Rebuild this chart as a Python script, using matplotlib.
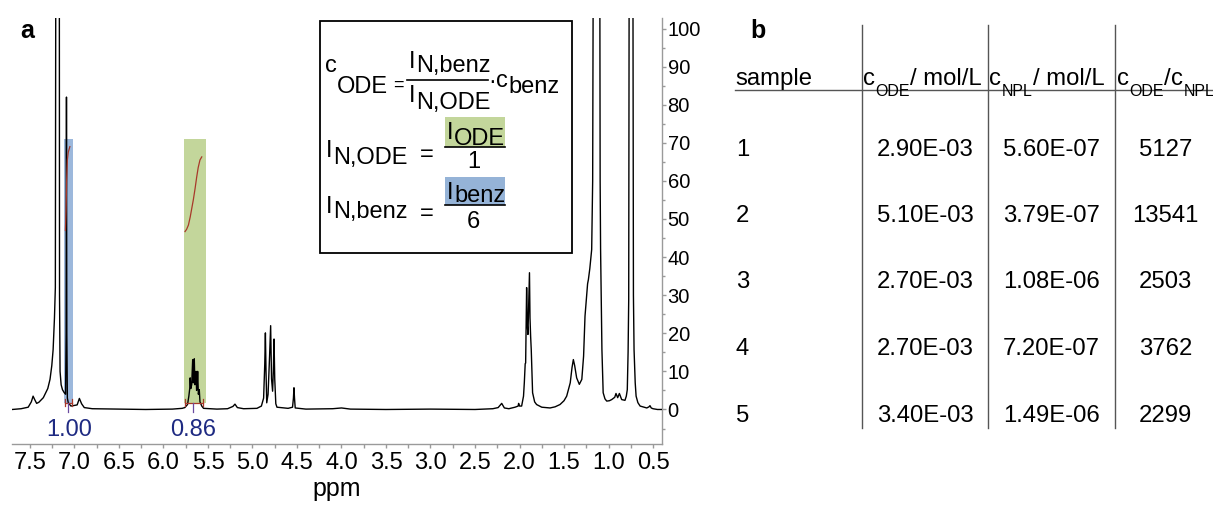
import matplotlib
matplotlib.use('Agg')
import matplotlib.pyplot as plt
from matplotlib.patches import Rectangle

W, H = 1213, 507
plt.rcParams['font.family'] = ['Liberation Sans', 'DejaVu Sans']

# ---------------- spectrum data (ppm, intensity) ----------------
spec_ppm = [7.70, 7.60, 7.52, 7.485, 7.465, 7.445, 7.425, 7.40, 7.35, 7.30, 7.275, 7.255, 7.24,
            7.225, 7.215, 7.208, 7.171, 7.168, 7.162, 7.15, 7.135, 7.115, 7.10, 7.094, 7.09,
            7.086, 7.08, 7.07, 7.04, 6.97, 6.945, 6.92, 6.89, 6.80, 6.50, 6.20, 5.90, 5.79,
            5.76, 5.73, 5.715, 5.705, 5.700, 5.693, 5.683, 5.672, 5.666, 5.660, 5.654, 5.647,
            5.641, 5.635, 5.628, 5.622, 5.616, 5.608, 5.598, 5.590, 5.57, 5.55, 5.40, 5.28,
            5.22, 5.197, 5.17, 5.10, 4.95, 4.90, 4.875, 4.862, 4.855, 4.848, 4.84, 4.825,
            4.808, 4.796, 4.786, 4.774, 4.766, 4.758, 4.750, 4.738, 4.725, 4.60, 4.55, 4.540,
            4.534, 4.528, 4.52, 4.40, 4.10, 4.00, 3.90, 3.50, 3.00, 2.50, 2.30, 2.24, 2.20,
            2.17, 2.12, 2.05, 2.015, 2.01, 2.00, 1.976, 1.955, 1.946, 1.936, 1.931, 1.925,
            1.920, 1.912, 1.905, 1.896, 1.888, 1.882, 1.875, 1.868, 1.860, 1.853, 1.83, 1.808,
            1.75, 1.657, 1.60, 1.545, 1.50, 1.47, 1.43, 1.41, 1.395, 1.38, 1.358, 1.328, 1.30,
            1.28, 1.264, 1.245, 1.235, 1.226, 1.21, 1.189, 1.178, 1.168, 1.100, 1.094, 1.089,
            1.080, 1.074, 1.06, 1.04, 1.02, 0.99, 0.964, 0.93, 0.916, 0.897, 0.878, 0.852,
            0.815, 0.80, 0.789, 0.780, 0.773, 0.766, 0.728, 0.720, 0.713, 0.700, 0.69, 0.67,
            0.645, 0.57, 0.545, 0.534, 0.52, 0.50, 0.45, 0.39]
spec_int = [0.0, 0.2, 0.6, 2.0, 3.5, 2.5, 1.6, 1.9, 3.1, 5.5, 7.9, 11.5, 15.7,
            24, 32, 150, 150, 30, 10, 6.5, 5.2, 4.4, 4.0, 20, 82,
            20, 3.0, 1.8, 0.9, 1.2, 2.9, 1.5, 0.5, 0.2, 0.1, 0.0, 0.1, 0.3,
            0.5, 1.3, 3.5, 5.5, 8.3, 5.5, 6.5, 13.1, 7.0, 8.0, 13.3, 6.5,
            7.0, 10.0, 5.0, 6.0, 10.0, 4.0, 5.2, 2.0, 0.9, 0.3, 0.1, 0.2,
            0.8, 1.4, 0.5, 0.2, 0.3, 0.9, 3.0, 12.0, 20.1, 10, 1.75, 4.0,
            14.0, 22.0, 8.0, 4.8, 10.0, 18.5, 8.0, 1.5, 0.6, 0.3, 0.6, 3.0,
            5.7, 3.0, 0.4, 0.1, 0.2, 0.4, 0.1, 0.0, 0.1, 0.0, 0.2, 0.5, 1.6,
            0.4, 0.2, 0.6, 0.9, 1.6, 0.9, 0.9, 3.5, 7.0, 12.0, 12.2, 24,
            32, 22, 19.7, 28, 35.9, 24, 19.2, 15.7, 10.0, 4.4, 2.0, 1.3,
            0.6, 0.4, 0.7, 1.3, 2.3, 3.5, 7.0, 11.0, 13.1, 11.5, 8.3, 6.6, 7.9,
            14.0, 24.5, 30.0, 33.0, 34.1, 37.0, 42, 60, 150, 150, 60, 42,
            25, 15.7, 4.4, 2.8, 2.2, 2.3, 2.6, 3.2, 4.2, 3.1, 4.2, 2.6,
            2.4, 3.5, 5.2, 15, 28.9, 150, 150, 30, 15.7, 7, 3.5, 1.8,
            0.9, 0.4, 0.7, 1.0, 0.4, 0.2, 0.0, 0.0]

# integration regions (ppm from, ppm to), highlight colours and results
int_regions = [(7.118, 7.013), (5.77, 5.52)]
int_colors = ['#9cb8dc', '#c3d69b']
int_box_bottom = 1.6
int_box_top = 71.0
int_labels = ['1.00', '0.86']
int_label_ppm = [7.065, 5.665]
int_brackets = [(7.107, 7.03), (5.758, 5.56)]
int_bracket_center = [7.07, 5.665]

int1_ppm = [7.102, 7.095, 7.088, 7.080, 7.070, 7.052]
int1_val = [47, 52, 60, 65.5, 67.5, 69]
int2_ppm = [5.758, 5.74, 5.72, 5.70, 5.665, 5.645, 5.627, 5.61, 5.59, 5.57]
int2_val = [46.7, 47.3, 48.4, 50.5, 55, 58, 61, 63.5, 65.5, 66.3]

x_major = [7.5, 7.0, 6.5, 6.0, 5.5, 5.0, 4.5, 4.0, 3.5, 3.0, 2.5, 2.0, 1.5, 1.0, 0.5]
x_minor = [7.25, 6.75, 6.25, 5.75, 5.25, 4.75, 4.25, 3.75, 3.25, 2.75, 2.25, 1.75, 1.25, 0.75]
y_major = [0, 10, 20, 30, 40, 50, 60, 70, 80, 90, 100]
y_minor = [-5, 5, 15, 25, 35, 45, 55, 65, 75, 85, 95]

# ---------------- table data ----------------
samples = ['1', '2', '3', '4', '5']
c_ode = [2.90e-3, 5.10e-3, 2.70e-3, 2.70e-3, 3.40e-3]
c_npl = [5.60e-7, 3.79e-7, 1.08e-6, 7.20e-7, 1.49e-6]
ratio = [5127, 13541, 2503, 3762, 2299]

# ---------------- figure ----------------
fig = plt.figure(figsize=(W / 100, H / 100), dpi=100)

ax_l, ax_r, ax_t, ax_b = 12, 662, 18, 444
ax = fig.add_axes([ax_l / W, (H - ax_b) / H, (ax_r - ax_l) / W, (ax_b - ax_t) / H])
ax.set_facecolor('none')
ax.set_xlim(7.702, 0.399)
ax.set_ylim(-9.06, 102.76)

gray = '#9a9a9a'
for s in ['top', 'left']:
    ax.spines[s].set_visible(False)
for s in ['bottom', 'right']:
    ax.spines[s].set_color(gray)
    ax.spines[s].set_linewidth(1.0)
ax.yaxis.tick_right()
ax.set_xticks(x_major)
ax.set_xticklabels([f'{v:.1f}' for v in x_major])
ax.set_xticks(x_minor, minor=True)
ax.set_yticks(y_major)
ax.set_yticklabels([str(v) for v in y_major])
ax.set_yticks(y_minor, minor=True)
ax.tick_params(axis='x', which='both', direction='out', length=3, width=1, color=gray,
               labelsize=17, pad=3)
ax.tick_params(axis='y', which='major', direction='out', length=3, width=1, color=gray,
               labelsize=14.5, pad=1)
ax.tick_params(axis='y', which='minor', direction='out', length=2, width=1, color=gray)
ax.set_xlabel('ppm', fontsize=18, labelpad=2)

for (a, b), c in zip(int_regions, int_colors):
    ax.fill_between([a, b], int_box_bottom, int_box_top, color=c, lw=0, zorder=1)

ax.plot(spec_ppm, spec_int, color='black', lw=1.0, zorder=3)

red = '#a8392a'
ax.plot(int1_ppm, int1_val, color=red, lw=0.9, zorder=4)
ax.plot(int2_ppm, int2_val, color=red, lw=0.9, zorder=4)
for (a, b), cx in zip(int_brackets, int_bracket_center):
    ax.plot([a, b], [1.8, 1.8], color=red, lw=0.9, zorder=4)
    ax.plot([a, a], [0.8, 2.8], color=red, lw=0.9, zorder=4)
    ax.plot([b, b], [0.8, 2.8], color=red, lw=0.9, zorder=4)
    ax.plot([cx, cx], [1.8, -0.6], color='#6a4aa0', lw=0.9, zorder=4)

for lab, p in zip(int_labels, int_label_ppm):
    ax.text(p, -5.4, lab, color='#1e2a82', fontsize=17, ha='center', va='center')

# ---------------- overlay in pixel coordinates ----------------
ov = fig.add_axes([0, 0, 1, 1])
ov.set_xlim(0, W)
ov.set_ylim(H, 0)
ov.axis('off')

fig.canvas.draw()
renderer = fig.canvas.get_renderer()


def seq(x, parts, **kw):
    for s, y, size in parts:
        t = ov.text(x, y, s, fontsize=size, va='baseline', ha='left', **kw)
        bb = t.get_window_extent(renderer=renderer)
        x = bb.x1 + 0.5
    return x


ov.text(20, 38, 'a', fontsize=18, fontweight='bold', va='baseline')
ov.text(750, 38, 'b', fontsize=18, fontweight='bold', va='baseline')

# formula box
ov.add_patch(Rectangle((319.5, 20.5), 252.5, 232.5, fill=True, facecolor='white',
                       edgecolor='black', lw=1.3, zorder=1))
fs = 17
# line 1
seq(325, [('c', 72, fs), ('ODE', 93, fs)], zorder=3)
ov.text(393, 90, '=', fontsize=13, va='baseline', ha='left', zorder=3)
ov.plot([406.5, 488], [80, 80], color='black', lw=1.2, zorder=3)
seq(409, [('I', 68, fs), ('N,benz', 72, fs)], zorder=3)
seq(409, [('I', 102, fs), ('N,ODE', 109, fs)], zorder=3)
ov.text(492, 88, '\u00b7', fontsize=fs, va='baseline', ha='center', zorder=3)
seq(496, [('c', 87, fs), ('benz', 93, fs)], zorder=3)
# line 2
seq(326, [('I', 157, fs), ('N,ODE', 164, fs)], zorder=3)
ov.text(420, 161, '=', fontsize=fs, va='baseline', ha='left', zorder=3)
ov.add_patch(Rectangle((445, 117), 60, 30, facecolor='#c3d69b', lw=0, zorder=2))
ov.plot([445, 505], [147, 147], color='black', lw=1.2, zorder=3)
seq(447, [('I', 139, fs), ('ODE', 145, fs)], zorder=3)
ov.text(473.5, 168, '1', fontsize=fs, va='baseline', ha='center', zorder=3)
# line 3
seq(326, [('I', 213, fs), ('N,benz', 218, fs)], zorder=3)
ov.text(420, 219.5, '=', fontsize=fs, va='baseline', ha='left', zorder=3)
ov.add_patch(Rectangle((445, 177), 60, 28, facecolor='#95b3d7', lw=0, zorder=2))
ov.plot([445, 505], [205, 205], color='black', lw=1.2, zorder=3)
seq(447, [('I', 199, fs), ('benz', 202, fs)], zorder=3)
ov.text(473, 228, '6', fontsize=fs, va='baseline', ha='center', zorder=3)

# ---------------- table ----------------
tfs = 17.2
sfs = 11.5
tcol = '#555555'
for xv in [861.7, 988.3, 1115]:
    ov.plot([xv, xv], [25, 428], color=tcol, lw=1.0)
ov.plot([735, 1213], [90, 90], color=tcol, lw=1.0)

ov.text(735, 85, 'sample', fontsize=tfs, va='baseline', ha='left')
seq(863, [('c', 85, tfs), ('ODE', 96.5, sfs), ('/ mol/L', 85, tfs)])
seq(989.5, [('c', 85, tfs), ('NPL', 96.5, sfs), ('/ mol/L', 85, tfs)])
seq(1117, [('c', 85, tfs), ('ODE', 96.5, sfs), ('/', 85, tfs), ('c', 85, tfs), ('NPL', 96.5, sfs)])

row_y = [147, 213.5, 280, 346.5, 413]
for yc, s, a, b, r in zip(row_y, samples, c_ode, c_npl, ratio):
    yb = yc + 8.5
    ov.text(736, yb, s, fontsize=tfs, va='baseline', ha='left')
    ov.text(925, yb, f'{a:.2E}', fontsize=tfs, va='baseline', ha='center')
    ov.text(1051.7, yb, f'{b:.2E}', fontsize=tfs, va='baseline', ha='center')
    ov.text(1165.5, yb, f'{r}', fontsize=tfs, va='baseline', ha='center')

fig.savefig('out.png', dpi=100)
